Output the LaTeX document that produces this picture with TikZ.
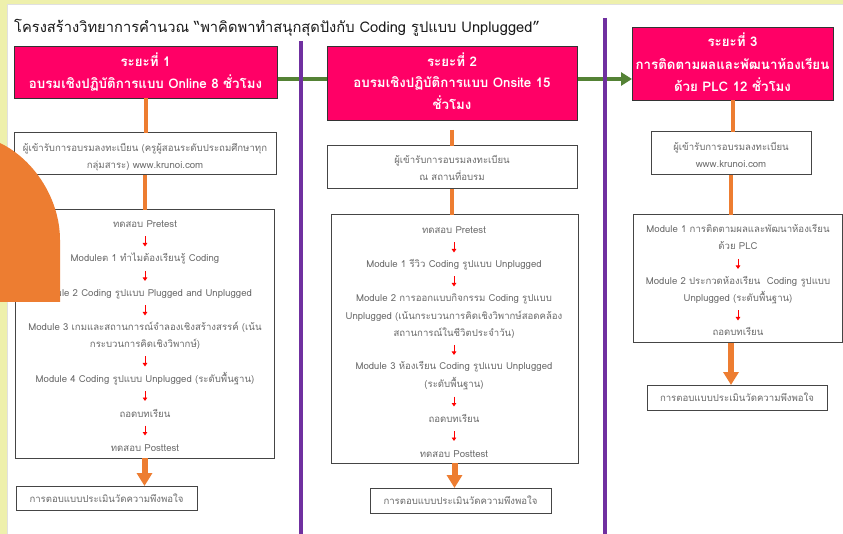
\documentclass[tikz,border=0pt]{standalone}
\usepackage{fontspec}
\newfontfamily\thai[Script=Thai]{Loma}
\usetikzlibrary{arrows.meta,calc}
\definecolor{pinkhead}{HTML}{FF0066}
\definecolor{orangec}{HTML}{ED7D31}
\definecolor{greenc}{HTML}{548235}
\definecolor{purplec}{HTML}{7030A0}
\definecolor{yellowbg}{HTML}{EEF0AC}
\definecolor{txtgray}{HTML}{6A6A6A}
\definecolor{boxline}{HTML}{454545}
\newcommand\rarr[2]{\draw[redarr] ($(#1.base)!.5!(#2.base)+(0,-8.5)$) -- ($(#1.base)!.5!(#2.base)+(0,1.5)$);}
\begin{document}
\begin{tikzpicture}[x=1pt,y=-1pt,
 header/.style={draw=black!80, line width=0.8pt, fill=pinkhead, anchor=north west, inner sep=0pt, outer sep=0pt},
 box/.style={draw=boxline, line width=1pt, fill=white, anchor=north west, inner sep=0pt, outer sep=0pt},
 htxt/.style={text=white, font=\thai\bfseries\fontsize{13.3}{16}\selectfont, anchor=base, inner sep=0pt},
 txt/.style={text=txtgray, font=\thai\fontsize{9.6}{12}\selectfont, anchor=base, inner sep=1pt},
 redarr/.style={draw=red, line width=1pt, -{Triangle[length=3.5pt,width=4.5pt]}},
 link/.style={draw=orangec, line width=4pt},
 bigarr/.style={draw=orangec, line width=6pt, -{Triangle[length=13pt,width=15pt]}},
 flow/.style={draw=greenc, line width=4pt, -{Triangle[length=11pt,width=13pt]}},
 divider/.style={draw=purplec, line width=4pt}]
\useasboundingbox (0,0) rectangle (843,534);
% background
\fill[yellowbg] (0,0) rectangle (843,534);
\fill[black!12] (6.5,4.5) rectangle (843,534);
\fill[white] (7.5,5.5) rectangle (843,534);
% title
\node[anchor=base west, inner sep=0pt, font=\thai\fontsize{14.7}{16}\selectfont, text=black!90] (title) at (14,33)
 {โครงสร้างวิทยาการคำนวณ “พาคิดพาทำสนุกสุดปังกับ Coding รูปแบบ Unplugged”};
% headers (nodes)
\node[header, minimum width=263, minimum height=52] (h1) at (14,46) {};
\node[header, minimum width=250, minimum height=74] (h2) at (327,46) {};
\node[header, minimum width=201, minimum height=73] (h3) at (632,27) {};
% boxes
\node[box, minimum width=262, minimum height=42] (b1a) at (14,133) {};
\node[box, minimum width=259, minimum height=248] (b1b) at (15,210) {};
\node[box, minimum width=181, minimum height=24] (b1c) at (16,486) {};
\node[box, minimum width=250, minimum height=43] (b2a) at (327,146) {};
\node[box, minimum width=247, minimum height=248] (b2b) at (331,215) {};
\node[box, minimum width=181, minimum height=25] (b2c) at (370,488) {};
\node[box, minimum width=160, minimum height=43] (b3a) at (651,132) {};
\node[box, minimum width=209, minimum height=128] (b3b) at (633,215) {};
\node[box, minimum width=180, minimum height=25] (b3c) at (647,385) {};
% green flow arrow (behind dividers and headers)
\draw[flow] (h1.east |- 0,79) -- (h3.west |- 0,79);
% dividers
\draw[divider] (301,41) -- (301,534);
\draw[divider] (605,18) -- (605,534);
% redraw headers on top
\node[header, minimum width=250, minimum height=74] at (327,46) {};
\node[header, minimum width=263, minimum height=52] at (14,46) {};
\node[header, minimum width=201, minimum height=73] at (632,27) {};
% header texts
\node[htxt] (h1t1) at (h1.north |- 0,67) {ระยะที่ 1};
\node[htxt] (h1t2) at (h1.north |- 0,89) {อบรมเชิงปฏิบัติการแบบ Online 8 ชั่วโมง};
\node[htxt] (h2t1) at (h2.north |- 0,67) {ระยะที่ 2};
\node[htxt] (h2t2) at (h2.north |- 0,88) {อบรมเชิงปฏิบัติการแบบ Onsite 15};
\node[htxt] (h2t3) at (h2.north |- 0,110) {ชั่วโมง};
\node[htxt] (h3t1) at (h3.north |- 0,47) {ระยะที่ 3};
\node[htxt] (h3t2) at (h3.north |- 0,70) {การติดตามผลและพัฒนาห้องเรียน};
\node[htxt] (h3t3) at (h3.north |- 0,92) {ด้วย PLC 12 ชั่วโมง};
% orange links
\draw[link] (h1.south) -- (h1.south |- b1a.north);
\draw[link] (b1a.south) -- (b1a.south |- b1b.north);
\draw[bigarr] (b1b.south) -- (b1b.south |- b1c.north);
\draw[link] ([yshift=-10pt]h2.south) -- (h2.south |- b2a.north);
\draw[link] (b2a.south) -- (b2a.south |- b2b.north);
\draw[bigarr] (b2b.south) -- (b2b.south |- b2c.north);
\draw[link] (h3.south) -- (h3.south |- b3a.north);
\draw[link] (b3a.south) -- (b3a.south |- b3b.north);
\draw[bigarr] (b3a.south |- b3b.south) -- (b3a.south |- b3c.north);
% column 1 texts
\node[txt] (a1) at (b1a.north |- 0,152) {ผู้เข้ารับการอบรมลงทะเบียน (ครูผู้สอนระดับประถมศึกษาทุก};
\node[txt] (a2) at (b1a.north |- 0,169) {กลุ่มสาระ) www.krunoi.com};
\node[txt] (p1) at (145,228) {ทดสอบ Pretest};
\node[txt] (p2) at (145,262) {Moduleต 1 ทำไมต้องเรียนรู้ Coding};
\node[txt] (p3) at (145,297) {Module 2 Coding รูปแบบ Plugged and Unplugged};
\node[txt] (p4) at (145,331) {Module 3 เกมและสถานการณ์จำลองเชิงสร้างสรรค์ (เน้น};
\node[txt] (p4b) at (145,348) {กระบวนการคิดเชิงวิพากษ์)};
\node[txt] (p5) at (145,382) {Module 4 Coding รูปแบบ Unplugged (ระดับพื้นฐาน)};
\node[txt] (p6) at (145,417) {ถอดบทเรียน};
\node[txt] (p7) at (145,451) {ทดสอบ Posttest};
\rarr{p1}{p2}\rarr{p2}{p3}\rarr{p3}{p4}\rarr{p4b}{p5}\rarr{p5}{p6}\rarr{p6}{p7}
\node[txt] (c1) at (b1c.center |- 0,502) {การตอบแบบประเมินวัดความพึงพอใจ};
% column 2 texts
\node[txt] (d1) at (b2a.north |- 0,164) {ผู้เข้ารับการอบรมลงทะเบียน};
\node[txt] (d2) at (b2a.north |- 0,181) {ณ สถานที่อบรม};
\node[txt] (q1) at (454,234) {ทดสอบ Pretest};
\node[txt] (q2) at (454,268) {Module 1 รีวิว Coding รูปแบบ Unplugged};
\node[txt] (q3) at (454,302) {Module 2 การออกแบบกิจกรรม Coding รูปแบบ};
\node[txt] (q3b) at (454,320) {Unplugged (เน้นกระบวนการคิดเชิงวิพากษ์สอดคล้อง};
\node[txt] (q3c) at (454,337) {สถานการณ์ในชีวิตประจำวัน)};
\node[txt] (q4) at (454,370) {Module 3 ห้องเรียน Coding รูปแบบ Unplugged};
\node[txt] (q4b) at (454,388) {(ระดับพื้นฐาน)};
\node[txt] (q5) at (454,422) {ถอดบทเรียน};
\node[txt] (q6) at (454,457) {ทดสอบ Posttest};
\rarr{q1}{q2}\rarr{q2}{q3}\rarr{q3c}{q4}\rarr{q4b}{q5}\rarr{q5}{q6}
\node[txt] (c2) at (b2c.center |- 0,504) {การตอบแบบประเมินวัดความพึงพอใจ};
% column 3 texts
\node[txt] (e1) at (b3a.north |- 0,151) {ผู้เข้ารับการอบรมลงทะเบียน};
\node[txt] (e2) at (b3a.north |- 0,168) {www.krunoi.com};
\node[txt] (r1) at (738,233) {Module 1 การติดตามผลและพัฒนาห้องเรียน};
\node[txt] (r1b) at (738,250) {ด้วย PLC};
\node[txt] (r2) at (738,285) {Module 2 ประกวดห้องเรียน\ \ Coding รูปแบบ};
\node[txt] (r2b) at (738,302) {Unplugged (ระดับพื้นฐาน)};
\node[txt] (r3) at (738,336) {ถอดบทเรียน};
\rarr{r1b}{r2}\rarr{r2b}{r3}
\node[txt] (c3) at (b3c.center |- 0,401) {การตอบแบบประเมินวัดความพึงพอใจ};
% orange decorative shape (on top)
\fill[orangec] (0,143) .. controls (35,160) and (60,200) .. (60,240) -- (60,302) -- (0,302) -- cycle;
\end{tikzpicture}
\end{document}
